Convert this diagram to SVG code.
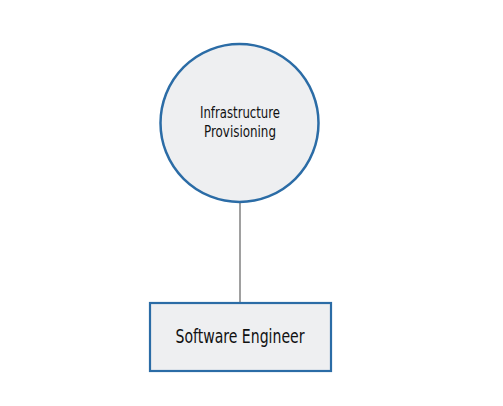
<svg xmlns="http://www.w3.org/2000/svg" width="503" height="406" viewBox="0 0 503 406">
<style>
.node{fill:#eeeff1;stroke:#2b6ca6;}
.lbl{font-family:"DejaVu Sans Condensed","Liberation Sans Narrow","Liberation Sans",sans-serif;fill:#111;text-anchor:middle;}
.edge{stroke:#808080;stroke-width:1.5;fill:none;}
</style>
<rect width="503" height="406" fill="#ffffff"/>
<g id="connectors">
<line class="edge" x1="240" y1="202" x2="240" y2="302"/>
</g>
<g id="node-infrastructure">
<circle class="node" cx="239.5" cy="123" r="79" stroke-width="2.5"/>
<text class="lbl" x="240" y="118" font-size="16" textLength="80" lengthAdjust="spacingAndGlyphs">Infrastructure</text>
<text class="lbl" x="240" y="137" font-size="16" textLength="72" lengthAdjust="spacingAndGlyphs">Provisioning</text>
</g>
<g id="node-engineer">
<rect class="node" x="150" y="303" width="181" height="68" stroke-width="2.2"/>
<text class="lbl" x="240" y="343" font-size="20" textLength="129" lengthAdjust="spacingAndGlyphs">Software Engineer</text>
</g>
</svg>
